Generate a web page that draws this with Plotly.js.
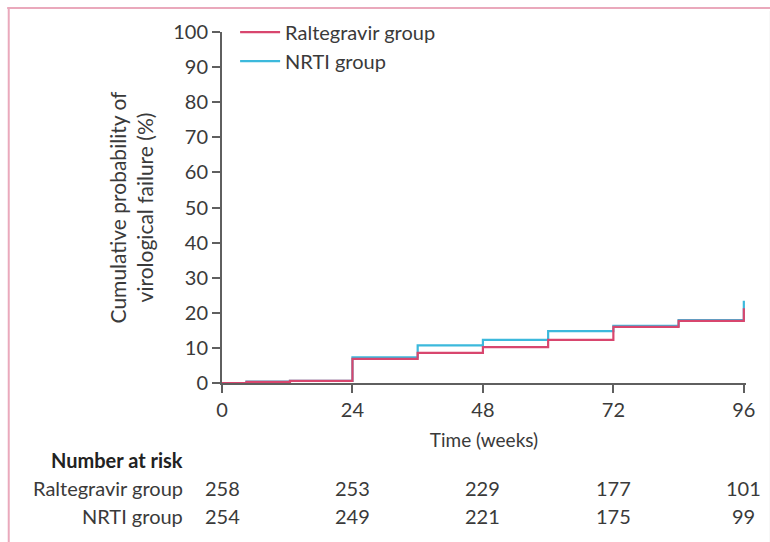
<!DOCTYPE html>
<html>
<head>
<meta charset="utf-8">
<script src="https://cdn.plot.ly/plotly-3.0.1.min.js"></script>
<style>
  html, body { margin: 0; padding: 0; background: #fff; }
  #chart { width: 770px; height: 542px; }
</style>
</head>
<body>
<div id="chart"></div>
<script>
// ---- data ----
const ralTimes  = [0, 4.5, 12.5, 24, 36, 48, 60, 72, 84, 96, 96];
const ralValues = [0, 0.3, 0.6, 6.9, 8.6, 10.2, 12.3, 16.0, 17.7, 17.7, 21.3];
const nrtiTimes  = [0, 4.5, 12.5, 24, 36, 48, 60, 72, 84, 96, 96];
const nrtiValues = [0, 0.4, 0.6, 7.3, 10.7, 12.3, 14.8, 16.3, 17.9, 17.9, 23.4];

const riskWeeks = [0, 24, 48, 72, 96];
const riskRal   = [258, 253, 229, 177, 101];
const riskNrti  = [254, 249, 221, 175, 99];
const xTicks    = [0, 24, 48, 72, 96];
const yTicks    = [0, 10, 20, 30, 40, 50, 60, 70, 80, 90, 100];

const redColor  = '#d8466e';
const blueColor = '#3cb9dc';
const axisColor = '#5f5f5f';
const textColor = '#3a3a3a';
const fontFam   = 'Lato, "Open Sans", sans-serif';

const traces = [
  { x: nrtiTimes, y: nrtiValues, type: 'scatter', mode: 'lines', name: 'NRTI group',
    line: { shape: 'hv', color: blueColor, width: 2.2 }, legendrank: 2 },
  { x: ralTimes, y: ralValues, type: 'scatter', mode: 'lines', name: 'Raltegravir group',
    line: { shape: 'hv', color: redColor, width: 2.2 }, legendrank: 1 }
];

const annotations = [];
const rowY = [-0.299, -0.379];
const labelX = -0.07;
annotations.push({ xref: 'paper', yref: 'paper', x: labelX, y: -0.219, xanchor: 'right', yanchor: 'middle',
  text: '<b>Number at risk</b>', showarrow: false, font: { family: fontFam, size: 20, color: '#222' } });
annotations.push({ xref: 'paper', yref: 'paper', x: labelX, y: rowY[0], xanchor: 'right', yanchor: 'middle',
  text: 'Raltegravir group', showarrow: false, font: { family: fontFam, size: 20, color: textColor } });
annotations.push({ xref: 'paper', yref: 'paper', x: labelX, y: rowY[1], xanchor: 'right', yanchor: 'middle',
  text: 'NRTI group', showarrow: false, font: { family: fontFam, size: 20, color: textColor } });
riskWeeks.forEach((w, i) => {
  annotations.push({ xref: 'x', yref: 'paper', x: w, y: rowY[0], xanchor: 'center', yanchor: 'middle',
    text: String(riskRal[i]), showarrow: false, font: { family: fontFam, size: 20, color: textColor } });
  annotations.push({ xref: 'x', yref: 'paper', x: w, y: rowY[1], xanchor: 'center', yanchor: 'middle',
    text: String(riskNrti[i]), showarrow: false, font: { family: fontFam, size: 20, color: textColor } });
});

const shapes = [
  { type: 'line', xref: 'paper', yref: 'paper', x0: -0.41, x1: 1.06, y0: 1.0684, y1: 1.0684,
    line: { color: '#eaa9bc', width: 2 } },
  { type: 'line', xref: 'paper', yref: 'paper', x0: -0.407, x1: -0.407, y0: 1.0684, y1: -0.47,
    line: { color: '#eaa9bc', width: 2 } },
  { type: 'line', xref: 'paper', yref: 'paper', x0: 1.046, x1: 1.046, y0: 1.06, y1: -0.47,
    line: { color: '#eeeeee', width: 1 } }
];

const layout = {
  width: 770, height: 542,
  margin: { l: 222, r: 23.8, t: 32, b: 159 },
  paper_bgcolor: '#fff', plot_bgcolor: '#fff',
  font: { family: fontFam, color: textColor, size: 20 },
  showlegend: true,
  legend: { x: 0.025, y: 1.055, xanchor: 'left', yanchor: 'top', bgcolor: 'rgba(0,0,0,0)',
            font: { family: fontFam, size: 20, color: textColor },
            itemwidth: 40, tracegroupgap: 0 },
  xaxis: {
    range: [0, 96.4], tickvals: xTicks, ticktext: xTicks.map(String),
    showgrid: false, zeroline: false, showline: true, linecolor: axisColor, linewidth: 2,
    ticks: 'outside', ticklen: 8, tickwidth: 2, tickcolor: axisColor, layer: 'below traces',
    tickfont: { family: fontFam, size: 20, color: textColor },
    title: { text: 'Time (weeks)', font: { family: fontFam, size: 19, color: textColor }, standoff: 14 }
  },
  yaxis: {
    range: [0, 100], tickvals: yTicks, ticktext: yTicks.map(String),
    showgrid: false, zeroline: false, showline: true, linecolor: axisColor, linewidth: 2,
    ticks: 'outside', ticklen: 8, tickwidth: 2, tickcolor: axisColor, layer: 'below traces',
    tickfont: { family: fontFam, size: 20, color: textColor },
    title: { text: 'Cumulative probability of<br>virological failure (%)', font: { family: fontFam, size: 21, color: textColor }, standoff: 14 }
  },
  annotations: annotations,
  shapes: shapes
};

Plotly.newPlot('chart', traces, layout, { displayModeBar: false, staticPlot: true });
</script>
</body>
</html>
